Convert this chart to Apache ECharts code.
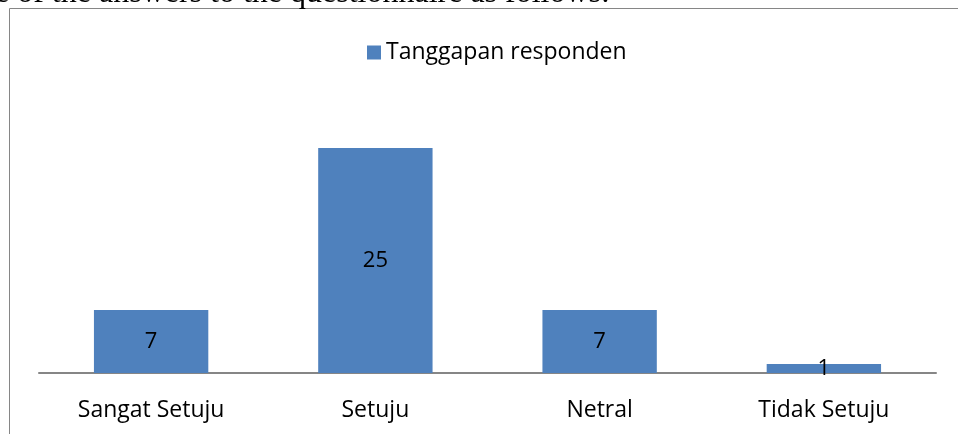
<!DOCTYPE html>
<html>
<head>
<meta charset="utf-8">
<script src="https://cdn.jsdelivr.net/npm/echarts@6/dist/echarts.min.js"></script>
<style>
  html, body { margin: 0; padding: 0; background: #fff; }
  #chart { width: 958px; height: 434px; }
</style>
</head>
<body>
<div id="chart"></div>
<script>
// data
var categories = ['Sangat Setuju', 'Setuju', 'Netral', 'Tidak Setuju'];
var responses = [7, 25, 7, 1];
var seriesName = 'Tanggapan responden';

var fontFace = '"Open Sans", "Noto Sans", sans-serif';

var myChart = echarts.init(document.getElementById('chart'), null, { renderer: 'canvas' });

var option = {
    animation: false,
    backgroundColor: '#fff',
    graphic: [
        {
            // frame of the chart area, only top and left are visible
            type: 'rect',
            silent: true,
            shape: { x: 9.5, y: 8.5, width: 970, height: 450 },
            style: { fill: 'none', stroke: '#868686', lineWidth: 1 }
        },
        {
            // text of the page above the chart, cut off by the crop
            type: 'text',
            silent: true,
            left: -5,
            top: -22,
            style: {
                text: 'e of the answers to the questionnaire as follows:',
                font: '32px "Liberation Serif", serif',
                fill: '#000'
            }
        }
    ],
    legend: {
        data: [seriesName],
        top: 36,
        left: 362,
        itemWidth: 14,
        itemHeight: 14,
        itemGap: 5,
        icon: 'rect',
        textStyle: { fontFamily: fontFace, fontSize: 23, color: '#000' }
    },
    grid: {
        left: 39,
        right: 22,
        top: 103,
        bottom: 61,
        containLabel: false
    },
    xAxis: {
        type: 'category',
        data: categories,
        axisLine: { lineStyle: { color: '#868686', width: 2 } },
        axisTick: { show: false },
        axisLabel: {
            fontFamily: fontFace,
            fontSize: 23,
            color: '#000',
            margin: 26
        }
    },
    yAxis: {
        type: 'value',
        min: 0,
        max: 30,
        show: false,
        splitLine: { show: false }
    },
    series: [
        {
            name: seriesName,
            type: 'bar',
            data: responses,
            barWidth: '51%',
            itemStyle: { color: '#4f81bd' },
            label: {
                show: true,
                position: 'inside',
                fontFamily: fontFace,
                fontSize: 22,
                color: '#000'
            }
        }
    ]
};

myChart.setOption(option);
</script>
</body>
</html>
